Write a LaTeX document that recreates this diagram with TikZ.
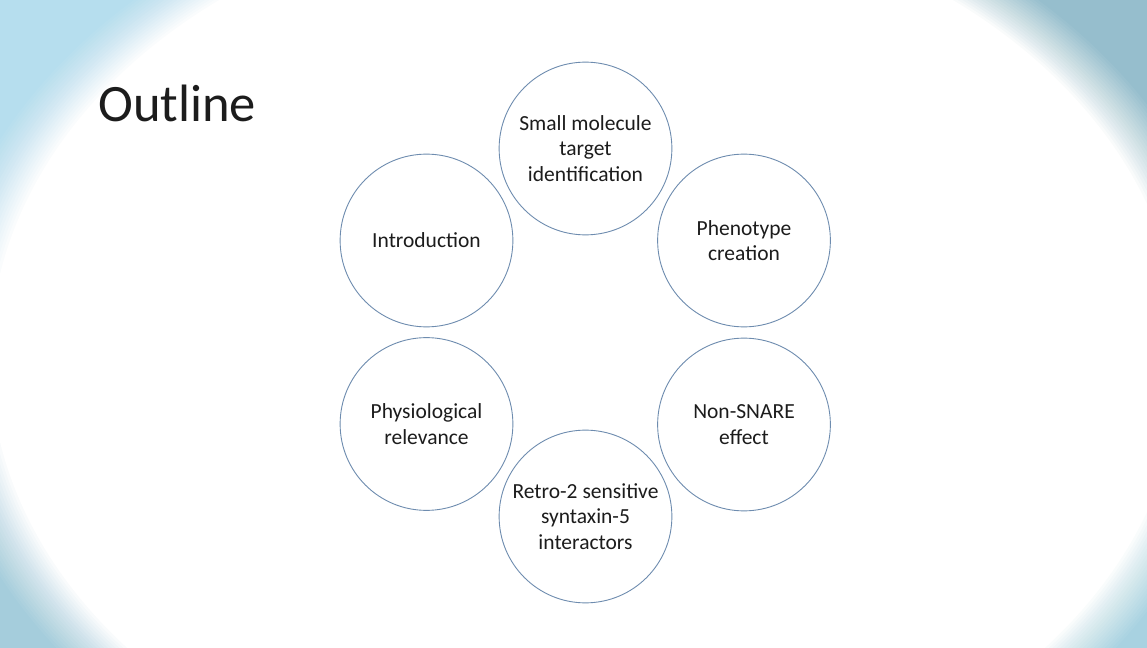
\documentclass[tikz,border=0pt]{standalone}
\usepackage{fontspec}
\setmainfont{Carlito}
\definecolor{tlblue}{RGB}{182,222,238}
\definecolor{trblue}{RGB}{150,190,205}
\definecolor{blblue}{RGB}{165,205,220}
\definecolor{brblue}{RGB}{168,210,225}
\definecolor{ringcol}{RGB}{110,140,175}
\definecolor{txt}{RGB}{28,28,28}
\begin{document}
\begin{tikzpicture}[x=0.837pt,y=-0.837pt,
  ring/.style={circle,draw=ringcol,line width=0.75pt,minimum size=144.6pt,inner sep=0pt,
    align=center,text=txt,font=\fontsize{18}{21.5}\selectfont}]
\useasboundingbox (0,0) rectangle (1147,648);
\begin{scope}
  \clip (0,0) rectangle (1147,648);
  \fill[tlblue] (0,0) rectangle (574,324);
  \fill[trblue] (573,0) rectangle (1147,324);
  \fill[blblue] (0,323) rectangle (574,648);
  \fill[brblue] (573,323) rectangle (1147,648);
  \foreach \k in {1,...,20} {
    \pgfmathsetmacro\vs{1.05-(\k-1)*0.09/19}
    \pgfmathsetmacro\op{1/(21-\k)}
    \fill[white,fill opacity=\op] (586,358) ellipse ({\vs*621} and {\vs*473});
  }
\end{scope}
\node[anchor=base west,inner sep=0pt,text=txt,font=\fontsize{44}{50}\selectfont] (title) at (98,122) {Outline};
\node[ring] (smt) at (585.5,148.5) {Small molecule\\target\\identification};
\node[ring] (phen) at (744,240.5) {Phenotype\\creation};
\node[ring] (nons) at (744,424.5) {Non-SNARE\\effect};
\node[ring] (retro) at (585.5,516.5) {Retro-2 sensitive\\syntaxin-5\\interactors};
\node[ring] (phys) at (426.5,424) {Physiological\\relevance};
\node[ring] (intro) at (426.5,240.5) {Introduction};
\end{tikzpicture}
\end{document}
